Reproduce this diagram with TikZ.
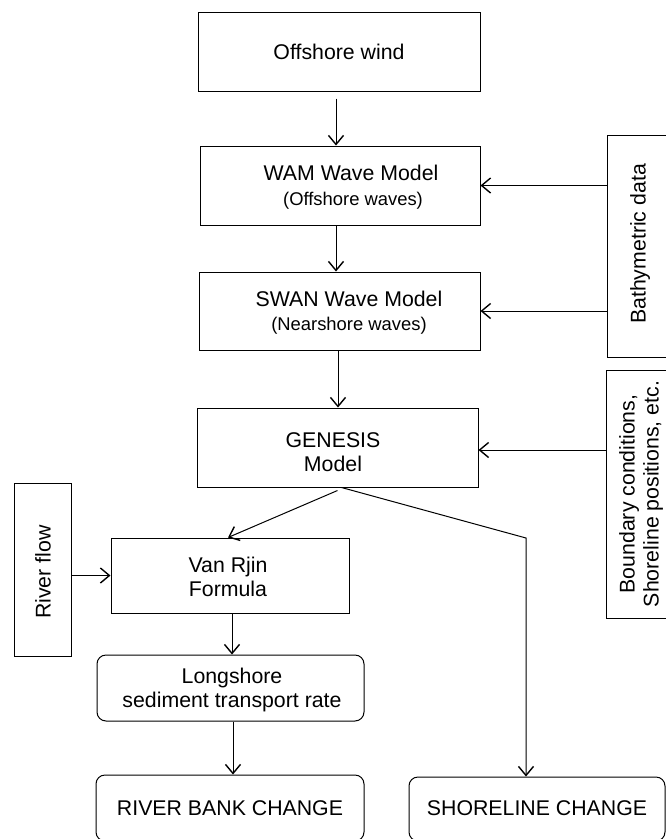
\documentclass[tikz,border=0pt]{standalone}
\usepackage{fontspec}
\setmainfont{Liberation Sans}
\usetikzlibrary{arrows.meta,positioning,calc}
\begin{document}
\begin{tikzpicture}[x=1pt,y=-1pt,
  box/.style={draw,line width=1pt,inner sep=0pt},
  rbox/.style={box,rounded corners=9pt},
  txt/.style={font=\fontsize{21.3}{24}\selectfont,align=center,inner sep=0pt},
  sub/.style={font=\fontsize{18.4}{24}\selectfont,inner sep=0pt},
  arr/.style={line width=1pt,-{Straight Barb[length=9pt,width=15pt,line width=1.4pt]}},
  ln/.style={line width=1pt}]
\useasboundingbox (0,0) rectangle (665,839);
% boxes
\node[box,minimum width=282pt,minimum height=79pt] (wind) at (339,51.5) {};
\node[box,minimum width=280pt,minimum height=79pt] (wam) at (340,185.5) {};
\node[box,minimum width=281pt,minimum height=78pt] (swan) at (339.5,311) {};
\node[box,minimum width=281pt,minimum height=79pt] (gen) at (337.5,447.5) {};
\node[box,minimum width=66pt,minimum height=222pt] (bathy) at (640,246) {};
\node[box,minimum width=66pt,minimum height=248pt] (bound) at (639,494) {};
\node[box,minimum width=57pt,minimum height=173pt] (river) at (42.5,569.5) {};
\node[box,minimum width=238pt,minimum height=75pt] (van) at (230,575.5) {};
\node[rbox,minimum width=267pt,minimum height=66pt] (long) at (230.5,688) {};
\node[rbox,minimum width=268pt,minimum height=66pt] (bank) at (230,808) {};
\node[rbox,minimum width=256pt,minimum height=64pt] (shore) at (537,809) {};
% texts
\node[txt] (twind) at (wind.center) {Offshore wind};
\node[txt,anchor=base] (twam1) at (351,180) {WAM Wave Model};
\node[sub,anchor=base] (twam2) at (353,205) {(Offshore waves)};
\node[txt,anchor=base] (tswan1) at (349,306) {SWAN Wave Model};
\node[sub,anchor=base] (tswan2) at (349,330) {(Nearshore waves)};
\node[txt,anchor=base] (tgen) at (333,471) {GENESIS\\Model};
\node[txt,anchor=base] (tvan) at (228,596) {Van Rjin\\Formula};
\node[txt,anchor=base] (tlong) at (232,707) {Longshore\\sediment transport rate};
\node[txt] (tbank) at (230,808.5) {RIVER BANK CHANGE};
\node[txt] (tshore) at (537,808.5) {SHORELINE CHANGE};
\node[txt,rotate=90] (tbathy) at (640,244) {Bathymetric data};
\node[txt,rotate=90] (tbound) at (641,494) {Boundary conditions,\\Shoreline positions, etc.};
\node[txt,rotate=90] (triver) at (43,572) {River flow};
% connectors
\draw[arr,shorten <=7pt] ([xshift=-3pt]wind.south) -- ([xshift=-4pt]wam.north);
\draw[arr] ([xshift=-4pt]wam.south) -- ([xshift=-3.5pt]swan.north);
\draw[arr] ([xshift=-1.5pt]swan.south) -- ([xshift=0.5pt]gen.north);
\draw[arr] (bathy.west |- wam.east) -- (wam.east);
\draw[arr] (bathy.west |- swan.east) -- (swan.east);
\coordinate (gin) at ([yshift=-2.5pt]gen.east);
\draw[arr] (bound.west |- gin) -- (gin);
\draw[arr] ([yshift=-3pt]gen.south) -- ([xshift=-2pt]van.north);
\coordinate (bend) at (526,538);
\draw[arr] ([xshift=4pt]gen.south) -- (bend) -- (bend |- shore.north);
\draw[arr] (river.east |- van.west) -- (van.west);
\draw[arr] ([xshift=2pt]van.south) -- ([xshift=1.5pt]long.north);
\draw[arr] ([xshift=2.5pt]long.south) -- ([xshift=3pt]bank.north);
\end{tikzpicture}
\end{document}
